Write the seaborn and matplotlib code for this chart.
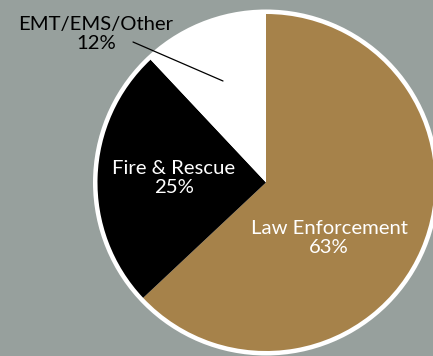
import matplotlib
matplotlib.use("Agg")
import matplotlib.pyplot as plt
from matplotlib.patches import Circle
import seaborn as sns

categories = ["Law Enforcement", "Fire & Rescue", "EMT/EMS/Other"]
values = [63, 25, 12]
pct_labels = ["63%", "25%", "12%"]

colors = ["#a6824a", "#000000", "#ffffff"]
bg = "#97a09d"

sns.set_style("white")
plt.rcParams['font.family'] = ['Lato', 'DejaVu Sans']

W, H = 433, 356
fig = plt.figure(figsize=(W / 100, H / 100), dpi=100, facecolor=bg)
ax = fig.add_axes([0, 0, 1, 1])
ax.set_facecolor(bg)

cx, cy = 266, H - 182.5
r = 168.5

ax.add_patch(Circle((cx, cy), r + 4.5, facecolor="white", edgecolor="none", zorder=0))
wedges, _ = ax.pie(values, colors=colors, startangle=90, counterclock=False,
                   center=(cx, cy), radius=r, wedgeprops=dict(linewidth=0))
for w in wedges:
    w.set_zorder(1)

ax.set_xlim(0, W)
ax.set_ylim(0, H)
ax.set_aspect('equal')
ax.axis('off')

fs = 14.6
# label positions (pixels from top-left)
pos = {
    "Law Enforcement": (329, 238, "white"),
    "Fire & Rescue": (174, 178, "white"),
    "EMT/EMS/Other": (96, 34, "black"),
}
for cat, pct in zip(categories, pct_labels):
    x, y, c = pos[cat]
    ax.text(x, H - y, f"{cat}\n{pct}", ha="center", va="center", color=c,
            fontsize=fs, fontweight="normal", linespacing=1.2, zorder=3)

ax.plot([133, 223], [H - 42, H - 81], color="black", linewidth=0.9, zorder=3)

fig.savefig("out.png", dpi=100, facecolor=bg)
